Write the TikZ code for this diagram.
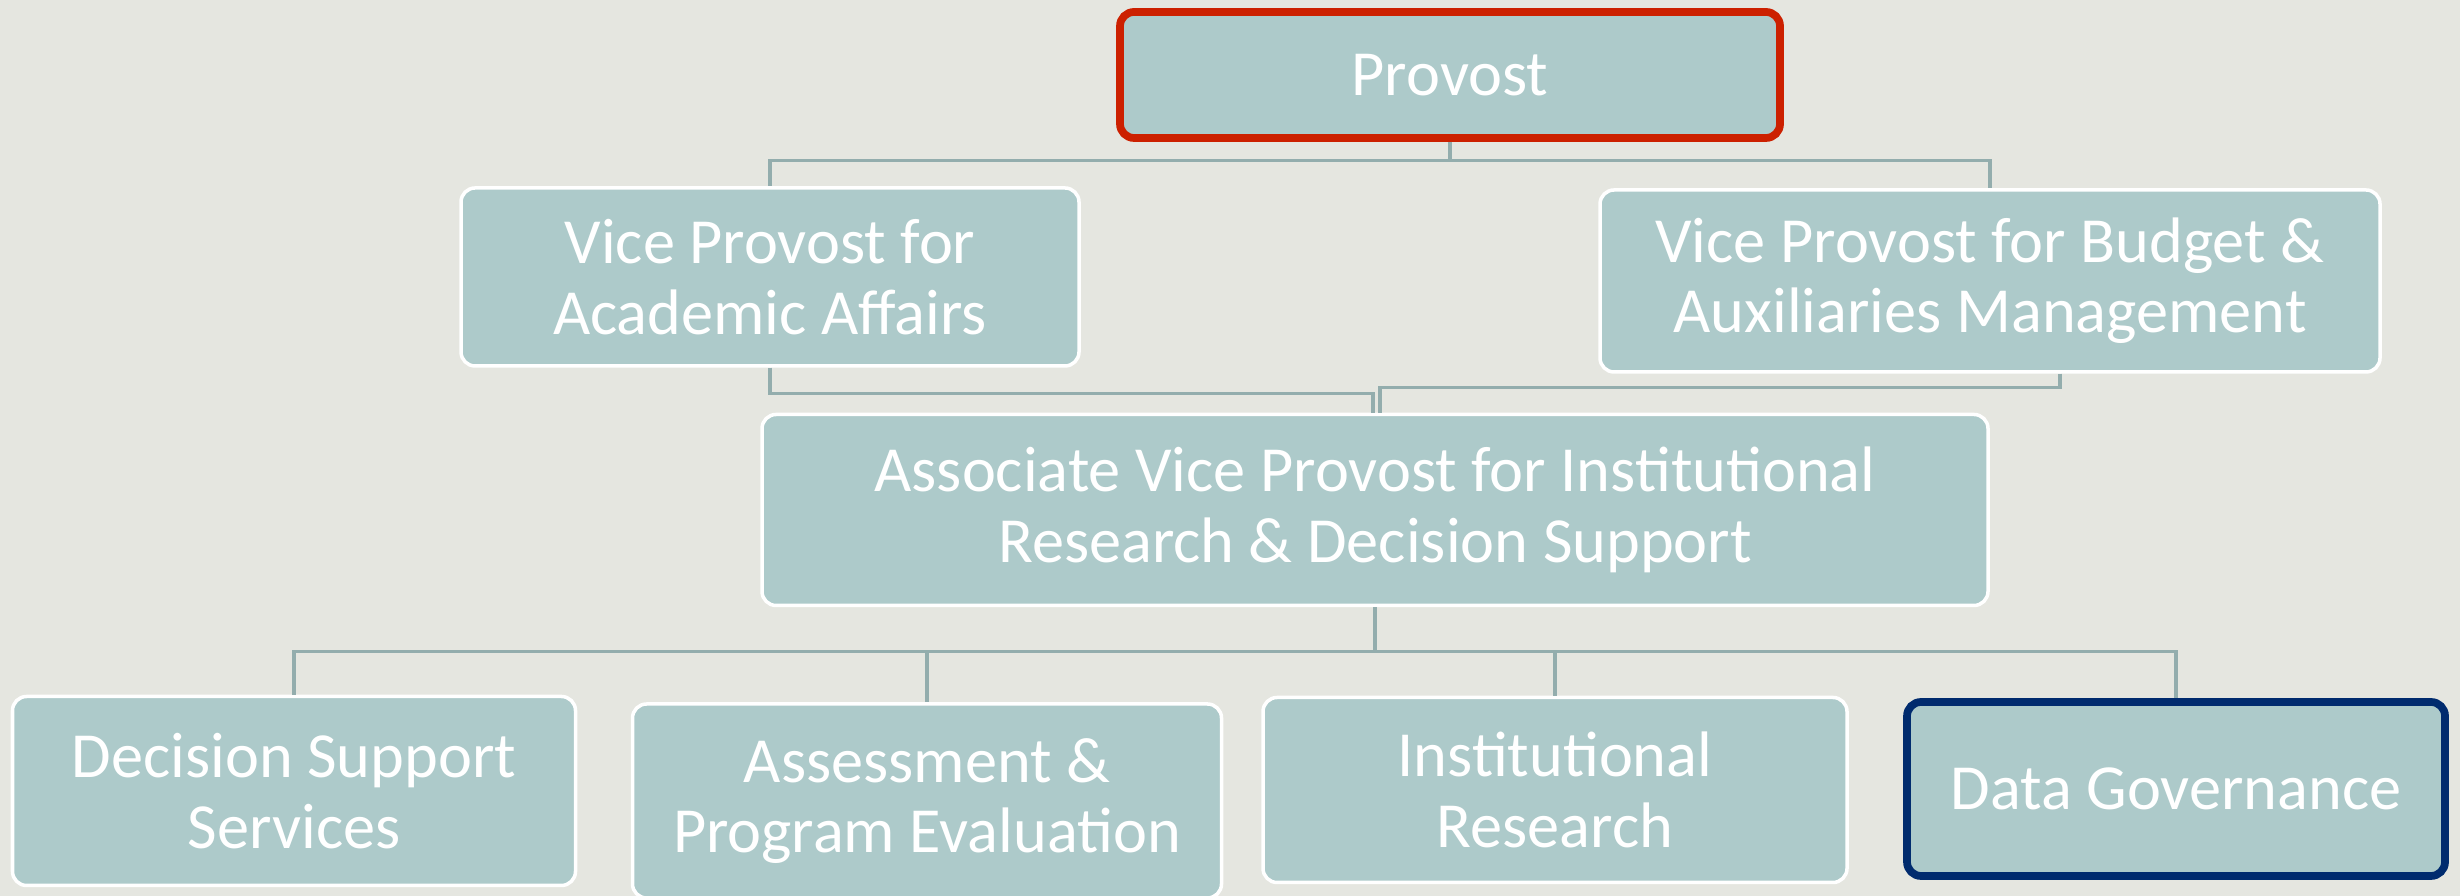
\documentclass[tikz,border=0pt]{standalone}
\usepackage{fontspec}
\setmainfont{Carlito}
\usepackage{xcolor}
\definecolor{Canvas}{HTML}{E5E6E0}
\definecolor{BoxFill}{HTML}{ADCACA}
\definecolor{Wire}{HTML}{93ADAD}
\definecolor{Flag}{HTML}{CC2000}
\definecolor{Navy}{HTML}{002B6E}

\begin{document}
\begin{tikzpicture}[
    unit/.style={draw=white,fill=BoxFill,line width=1pt,rounded corners=4pt,
                 align=center,text=white,inner sep=2pt,
                 font=\fontsize{18.3}{20}\selectfont},
    wire/.style={draw=Wire,line width=0.9pt}]
    % canvas
    \fill[Canvas] (0,0) rectangle (24.6,8.96);
    \useasboundingbox (0,0) rectangle (24.6,8.96);

    % top level
    \node[unit,draw=Flag,line width=2.2pt,minimum width=6.6cm,minimum height=1.26cm]
      (provost) at (14.50,8.21) {Provost};

    % vice provosts
    \node[unit,minimum width=6.18cm,minimum height=1.78cm]
      (vpaa) at (7.70,6.19) {Vice Provost for\\Academic Affairs};
    \node[unit,minimum width=7.80cm,minimum height=1.82cm]
      (vpbam) at (19.90,6.15) {Vice Provost for Budget \&\\Auxiliaries Management};

    % associate vice provost
    \node[unit,minimum width=12.26cm,minimum height=1.91cm]
      (avp) at (13.75,3.86) {Associate Vice Provost for Institutional\\Research \& Decision Support};

    % offices
    \node[unit,minimum width=5.63cm,minimum height=1.89cm]
      (dss) at (2.94,1.05) {Decision Support\\Services};
    \node[unit,minimum width=5.89cm,minimum height=1.94cm]
      (ape) at (9.27,0.95) {Assessment \&\\Program Evaluation};
    \node[unit,minimum width=5.84cm,minimum height=1.85cm]
      (ir) at (15.55,1.06) {Institutional\\Research};
    \node[unit,draw=Navy,line width=2.2pt,minimum width=5.38cm,minimum height=1.74cm]
      (dg) at (21.76,1.07) {Data Governance};

    % reporting lines
    \draw[wire] (provost.south) -- ++(0,-0.19) -| (vpaa.north);
    \draw[wire] (provost.south) -- ++(0,-0.19) -| (vpbam.north);
    \draw[wire] (vpaa.south) -- ++(0,-0.26) -| ([xshift=-0.02cm]avp.north);
    \draw[wire] ([xshift=0.70cm]vpbam.south) -- ++(0,-0.14) -| ([xshift=0.05cm]avp.north);
    \draw[wire] (avp.south) -- ++(0,-0.44) -| (dss.north);
    \draw[wire] (avp.south) -- ++(0,-0.44) -| (ape.north);
    \draw[wire] (avp.south) -- ++(0,-0.44) -| (ir.north);
    \draw[wire] (avp.south) -- ++(0,-0.44) -| (dg.north);
\end{tikzpicture}
\end{document}
